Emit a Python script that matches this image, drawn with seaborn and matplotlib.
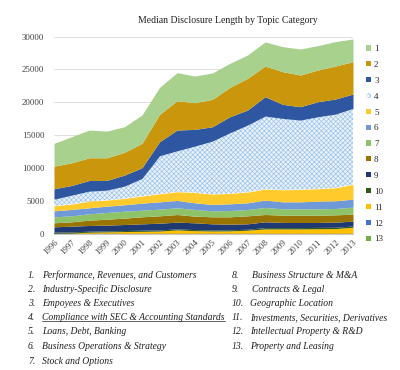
import numpy as np
import matplotlib
matplotlib.use("Agg")
import matplotlib.pyplot as plt
import seaborn as sns
from matplotlib.patches import Patch
from matplotlib.lines import Line2D

years = list(range(1996, 2014))

# layer values (median length), bottom layer first
topic13 = [40] * 18
topic12 = [40] * 18
topic11 = [40, 70, 170, 220, 270, 300, 340, 520, 400, 350, 370, 470, 670, 670, 670, 700, 720, 920]
topic10 = [130, 150, 150, 150, 150, 170, 180, 150, 170, 170, 170, 150, 200, 200, 200, 200, 200, 200]
topic9 = [820, 870, 870, 870, 920, 970, 1020, 1030, 1030, 920, 850, 820, 880, 780, 780, 750, 780, 730]
topic8 = [610, 660, 810, 910, 970, 1070, 1120, 1160, 1010, 1070, 1120, 1220, 1110, 1110, 1110, 1110, 1110, 1060]
topic7 = [910, 910, 970, 1020, 1060, 1010, 1020, 1020, 1020, 910, 960, 970, 1070, 970, 970, 970, 970, 1070]
topic6 = [910, 970, 910, 960, 970, 1070, 1110, 1120, 1010, 970, 1020, 1010, 1120, 1060, 1060, 1160, 1170, 1220]
topic5 = [760, 810, 1010, 920, 960, 1070, 1220, 1320, 1570, 1570, 1570, 1630, 1670, 1830, 1880, 1880, 1970, 2230]
topic4 = [1020, 1370, 1530, 1520, 1880, 2690, 5790, 6240, 7060, 8070, 9240, 10200, 11120, 10860, 10560, 10970, 11220, 11580]
topic3 = [1570, 1470, 1620, 1470, 1670, 1620, 2130, 3150, 2540, 2180, 2440, 2280, 2940, 2140, 2030, 2280, 2290, 2180]
topic2 = [3450, 3450, 3450, 3450, 3460, 3710, 4160, 4460, 4060, 4160, 4460, 4820, 4670, 4970, 4820, 4820, 5020, 4920]
topic1 = [3460, 3960, 4220, 4060, 3900, 4310, 4110, 4270, 4060, 4020, 3660, 3550, 3660, 3810, 3960, 3710, 3710, 3455]

layers = [topic13, topic12, topic11, topic10, topic9, topic8, topic7,
          topic6, topic5, topic4, topic3, topic2, topic1]
layer_names = ["13", "12", "11", "10", "9", "8", "7", "6", "5", "4", "3", "2", "1"]
colors = ["#70AD47", "#4472C4", "#FFC000", "#2F5A1E", "#1F3A73", "#9A7400",
          "#8FC36A", "#6F99D8", "#FFCA2C", "#E9F2FB", "#2F56A0", "#C9960C", "#A7D18C"]

left_items = ["Performance, Revenues, and Customers", "Industry-Specific Disclosure",
              "Empoyees & Executives", "Compliance with SEC & Accounting Standards",
              "Loans, Debt, Banking", "Business Operations & Strategy", "Stock and Options"]
right_items = ["Business Structure & M&A", "Contracts & Legal", "Geographic Location",
               "Investments, Securities, Derivatives", "Intellectual Property & R&D",
               "Property and Leasing"]

sns.set_style("white")
plt.rcParams["font.family"] = ["Liberation Serif", "DejaVu Serif"]
plt.rcParams["hatch.color"] = "#9CC4EA"
plt.rcParams["hatch.linewidth"] = 0.5

fig = plt.figure(figsize=(4, 3.7), dpi=100)
ax = fig.add_axes([0.135, 0.368, 0.7475, 0.533])

polys = ax.stackplot(years, np.array(layers), colors=colors, linewidth=0)
polys[9].set_hatch("xxxxxxx")
polys[9].set_edgecolor("#9CC4EA")
polys[9].set_linewidth(0)

ax.set_xlim(1996, 2013)
ax.set_ylim(0, 30000)
ax.set_yticks(range(0, 30001, 5000))
ax.set_xticks(years)
ax.set_xticklabels([str(y) for y in years], rotation=45, ha="right",
                   rotation_mode="anchor", fontsize=6.3, color="#404040")
ax.tick_params(axis="y", labelsize=6.3, colors="#404040", length=0, pad=7)
ax.tick_params(axis="x", length=2, width=0.5, color="#BFBFBF", pad=1)
ax.yaxis.grid(True, color="#D9D9D9", linewidth=0.6)
ax.set_axisbelow(True)
sns.despine(ax=ax, left=True, right=True, top=True)
ax.spines["bottom"].set_color("#BFBFBF")
ax.spines["bottom"].set_linewidth(0.6)
ax.spines["bottom"].set_zorder(0)

fig.text(0.57, 0.945, "Median Disclosure Length by Topic Category",
         ha="center", va="center", fontsize=7, color="#202020")

handles = []
for name, col in zip(layer_names[::-1], colors[::-1]):
    if name == "4":
        handles.append(Patch(facecolor=col, edgecolor="#9CC4EA", hatch="xxxx", linewidth=0))
    else:
        handles.append(Patch(facecolor=col, edgecolor="none"))
fig.legend(handles, layer_names[::-1], loc="upper left", bbox_to_anchor=(0.915, 0.878),
           frameon=False, fontsize=6.5, handlelength=0.5, handleheight=0.5,
           handletextpad=0.4, labelspacing=0.87, borderpad=0, borderaxespad=0)

row_y = [275, 289.3, 303.5, 317.8, 332, 346.5, 361]
for i, txt in enumerate(left_items):
    y = 1 - row_y[i] / 370
    fig.text(28 / 400, y, f"{i + 1}.", fontsize=6.9, style="italic", va="center", color="#202020")
    t = fig.text(42 / 400, y, txt, fontsize=6.9, style="italic", va="center", color="#202020")
    if i == 3:
        fig.canvas.draw()
        bb = t.get_window_extent().transformed(fig.transFigure.inverted())
        fig.add_artist(Line2D([bb.x0, bb.x1], [bb.y0 + 0.004, bb.y0 + 0.004],
                              transform=fig.transFigure, color="#202020", linewidth=0.5))
for i, txt in enumerate(right_items):
    y = 1 - row_y[i] / 370
    num = i + 8
    fig.text(232 / 400, y, f"{num}.", fontsize=6.9, style="italic", va="center", color="#202020")
    xoff = 252 if num < 10 else 250
    fig.text(xoff / 400, y, txt, fontsize=6.9, style="italic", va="center", color="#202020")

fig.savefig("out.png", dpi=100)
